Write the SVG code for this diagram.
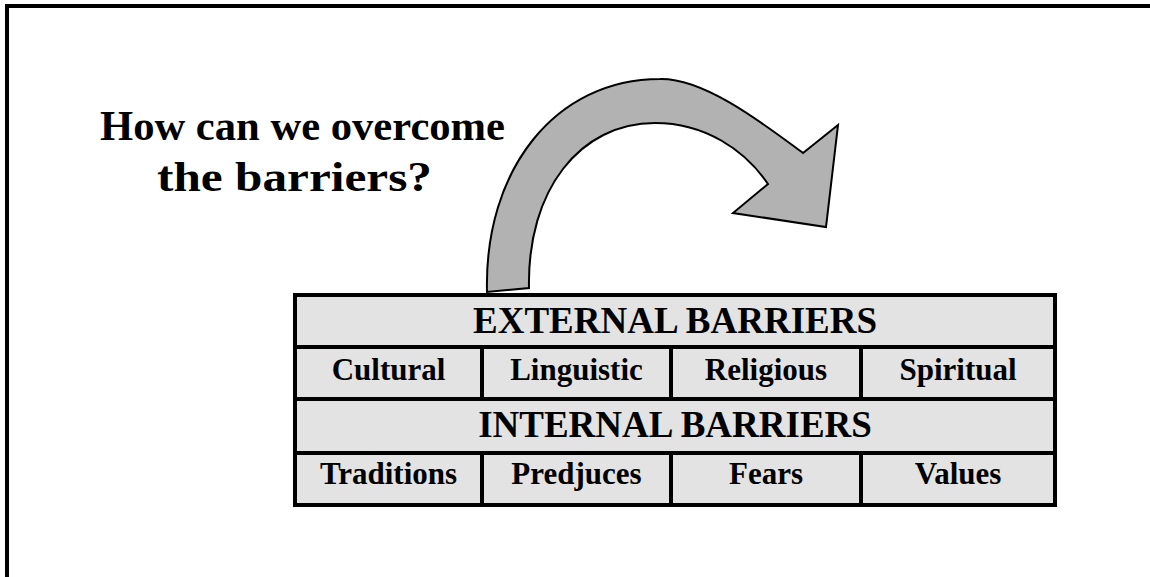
<svg xmlns="http://www.w3.org/2000/svg" width="1150" height="577" viewBox="0 0 1150 577">
<style>
.t{font-family:"Liberation Serif","Times New Roman",serif;font-weight:bold;fill:#000}
.h{font-size:37px;text-anchor:middle}
.c{font-size:31px;text-anchor:middle}
.title{font-size:43px}
.cell{fill:#e3e3e3}
.ln{stroke:#000;stroke-width:4;fill:none}
</style>
<rect x="0" y="0" width="1150" height="577" fill="#fff"/>
<g id="frame">
<rect x="5" y="4" width="1145" height="4" fill="#000"/>
<rect x="5" y="4" width="4" height="573" fill="#000"/>
</g>
<g id="title">
<text class="t title" x="100" y="140" textLength="405" lengthAdjust="spacingAndGlyphs">How can we overcome</text>
<text class="t title" x="157" y="191" textLength="275" lengthAdjust="spacingAndGlyphs">the barriers?</text>
</g>
<g id="connectors">
<path id="arrow" d="M487,292 C484,170 555,79 660,79 C705,78 765,125 803,153 L838,125 L826,227 L733,213 L768,184 C745,150 705,123 655,123 C580,123 527,190 529,288 Z" fill="#b2b2b2" stroke="#000" stroke-width="2" stroke-linejoin="miter"/>
</g>
<g id="table">
<rect class="cell" x="295" y="295" width="760" height="210"/>
<g id="external"><text class="t h" x="675" y="333">EXTERNAL BARRIERS</text></g>
<g id="cultural"><text class="t c" x="388.5" y="380">Cultural</text></g>
<g id="linguistic"><text class="t c" x="576.5" y="380">Linguistic</text></g>
<g id="religious"><text class="t c" x="766" y="380">Religious</text></g>
<g id="spiritual"><text class="t c" x="958" y="380">Spiritual</text></g>
<g id="internal"><text class="t h" x="675" y="437">INTERNAL BARRIERS</text></g>
<g id="traditions"><text class="t c" x="388.5" y="484">Traditions</text></g>
<g id="predjuces"><text class="t c" x="576.5" y="484">Predjuces</text></g>
<g id="fears"><text class="t c" x="766" y="484">Fears</text></g>
<g id="values"><text class="t c" x="958" y="484">Values</text></g>
<path class="ln" d="M293,295 H1057 M293,347 H1057 M293,399 H1057 M293,453 H1057 M293,505 H1057 M295,295 V505 M1055,295 V505 M482,347 V399 M671,347 V399 M861,347 V399 M482,453 V505 M671,453 V505 M861,453 V505"/>
</g>
</svg>
